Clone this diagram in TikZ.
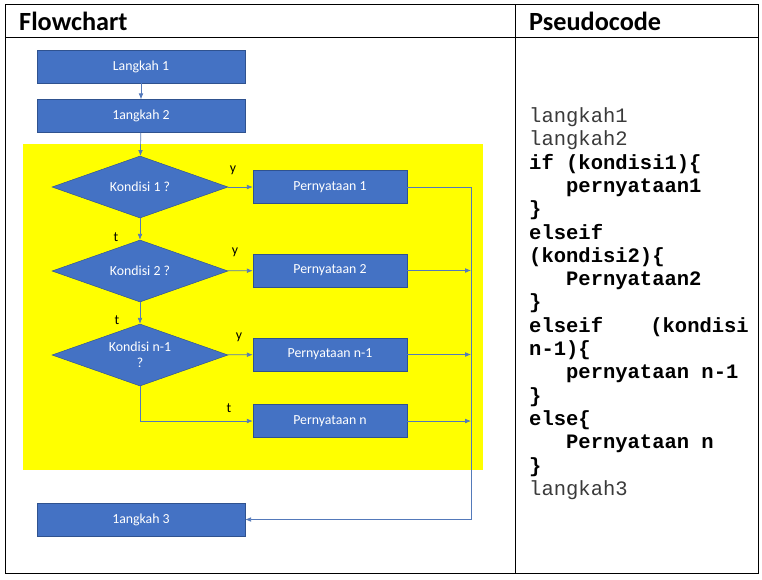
\documentclass[tikz,border=0pt]{standalone}
\usepackage{fontspec}
\setmainfont{Carlito}
\newfontfamily\codefont{Liberation Mono}
\usetikzlibrary{shapes.geometric,arrows.meta}
\definecolor{boxblue}{HTML}{4472C4}
\definecolor{boxedge}{HTML}{2F528F}
\definecolor{flowline}{HTML}{5479BA}
\definecolor{codegray}{HTML}{3A3A3A}
\definecolor{markyellow}{HTML}{FFFF00}

\begin{document}
\begin{tikzpicture}[x=0.03cm,y=-0.03cm,>={Latex[length=5pt,width=4pt]},
    stepbox/.style={draw=boxedge,fill=boxblue,text=white,inner sep=0pt,
      minimum width=6.24cm,minimum height=0.99cm,font=\fontsize{11.8}{14}\selectfont},
    outbox/.style={stepbox,minimum width=4.62cm},
    decbox/.style={diamond,draw=boxedge,fill=boxblue,text=white,inner sep=0pt,
      aspect=2.84,minimum width=5.28cm,minimum height=1.86cm,align=center,
      font=\fontsize{11.8}{13.7}\selectfont},
    flow/.style={draw=flowline,line width=0.6pt},
    yt/.style={font=\fontsize{11.8}{14}\selectfont},
    head/.style={anchor=base west,inner sep=0pt,font=\fontsize{22.4}{26}\selectfont\bfseries}]
  \useasboundingbox (0,0) rectangle (762,579);
  % table frame
  \draw[line width=0.8pt] (5,4) rectangle (758,573);
  \draw[line width=0.8pt] (5,37) -- (758,37);
  \draw[line width=0.8pt] (515,4) -- (515,573);
  \node[head] (hflow) at (19,30) {Flowchart};
  \node[head] (hcode) at (529,30) {Pseudocode};
  % yellow area
  \fill[markyellow] (23,144) rectangle (483,470);
  % flowchart
  \node[stepbox] (l1) at (141,66.5) {Langkah 1};
  \node[stepbox] (l2) at (141,116) {1angkah 2};
  \node[decbox] (d1) at (140,187) {Kondisi 1 ?};
  \node[outbox] (p1) at (330,187) {Pernyataan 1};
  \node[decbox] (d2) at (140,271) {Kondisi 2 ?};
  \node[outbox] (p2) at (330,270.5) {Pernyataan 2};
  \node[decbox] (d3) at (140,355) {Kondisi n-1\\?};
  \node[outbox] (p3) at (330,354.5) {Pernyataan n-1};
  \node[outbox] (p4) at (330,421) {Pernyataan n};
  \node[stepbox] (l3) at (141,519.5) {1angkah 3};
  \coordinate (ja) at (471,187);
  \coordinate (jb) at (471,519.5);
  \draw[flow,->] (l1) -- (l2);
  \draw[flow,->] (l2) -- (d1);
  \draw[flow,->] (d1) -- (p1);
  \draw[flow,->] (d1) -- (d2);
  \draw[flow,->] (d2) -- (p2);
  \draw[flow,->] (d2) -- (d3);
  \draw[flow,->] (d3) -- (p3);
  \draw[flow,->] (d3) |- (p4);
  \draw[flow,->] (p1) -- (ja) -- (jb) -- (l3);
  \draw[flow,->] (p2) -- (p2 -| ja);
  \draw[flow,->] (p3) -- (p3 -| ja);
  \draw[flow,->] (p4) -- (p4 -| ja);
  \node[yt] (y1) at (233,170) {y};
  \node[yt] (t1) at (116,237) {t};
  \node[yt] (y2) at (235,252) {y};
  \node[yt] (t2) at (117,320) {t};
  \node[yt] (y3) at (239,337) {y};
  \node[yt] (t3) at (229,408) {t};
  % pseudocode, anchored at the baseline of its last line
  \node[anchor=base west,inner sep=0pt,align=left,
    font=\codefont\fontsize{17.5}{19.9}\selectfont\bfseries] (code) at (529,495.5) {%
    \textcolor{codegray}{\mdseries langkah1}\\
    \textcolor{codegray}{\mdseries langkah2}\\
    if (kondisi1)\{\\
    \hspace*{31.5pt}pernyataan1\\
    \}\\
    elseif\\
    (kondisi2)\{\\
    \hspace*{31.5pt}Pernyataan2\\
    \}\\
    elseif\hspace*{40.4pt}(kondisi\\
    n-1)\{\\
    \hspace*{31.5pt}pernyataan n-1\\
    \}\\
    else\{\\
    \hspace*{31.5pt}Pernyataan n\\
    \}\\
    \textcolor{codegray}{\mdseries langkah3}};
\end{tikzpicture}
\end{document}
